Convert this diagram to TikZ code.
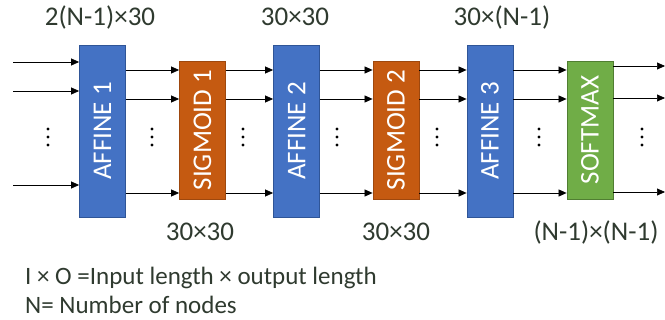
\documentclass[tikz,border=0pt]{standalone}
\usepackage{fontspec}
\setmainfont{Carlito}
\usetikzlibrary{arrows.meta}
\definecolor{ablue}{HTML}{4472C4}
\definecolor{ablueb}{HTML}{2F5597}
\definecolor{aorange}{HTML}{C55A11}
\definecolor{aorangeb}{HTML}{9E480E}
\definecolor{agreen}{HTML}{70AD47}
\definecolor{agreenb}{HTML}{507E32}
\definecolor{txt}{HTML}{2F3A2F}
\tikzset{
  layer/.style={draw=#1b, fill=#1, line width=0.8pt, minimum width=46pt, text=white, font=\fontsize{27}{30}\selectfont},
  tall/.style={minimum height=172pt},
  short/.style={minimum height=138pt},
  conn/.style={-{Triangle[length=8pt,width=7pt]}, line width=0.7pt, black},
  lbl/.style={anchor=base, text=txt, font=\fontsize{27}{30}\selectfont, inner sep=0pt},
  leg/.style={anchor=base west, text=txt, font=\fontsize{25}{28}\selectfont, inner sep=0pt},
  dot/.style={fill=black, draw=none}
}
\begin{document}
\begin{tikzpicture}[x=1pt,y=-1pt]
\useasboundingbox (0,0) rectangle (665,320);
% layers
\node[layer=ablue, tall] (a1) at (102.5,131) {\rotatebox{90}{AFFINE 1}};
\node[layer=aorange, short] (s1) at (202.5,130) {\rotatebox{90}{SIGMOID 1}};
\node[layer=ablue, tall] (a2) at (296.5,131) {\rotatebox{90}{AFFINE 2}};
\node[layer=aorange, short] (s2) at (396,130) {\rotatebox{90}{SIGMOID 2}};
\node[layer=ablue, tall] (a3) at (490,131) {\rotatebox{90}{AFFINE 3}};
\node[layer=agreen, short] (sm) at (590,130) {\rotatebox{90}{SOFTMAX}};
% row coordinates
\coordinate (i1) at (13,62);
\coordinate (i2) at (13,91);
\coordinate (i3) at (13,185);
\coordinate (r1) at (0,70);
\coordinate (r2) at (0,99);
\coordinate (r3) at (0,193);
\coordinate (o1) at (665,66);
\coordinate (o2) at (665,98);
\coordinate (o3) at (665,192);
% input arrows
\foreach \c in {i1,i2,i3} \draw[conn] (\c) -- (a1.west |- \c);
% between layers
\foreach \u/\v in {a1/s1,s1/a2,a2/s2,s2/a3,a3/sm}
  \foreach \r in {r1,r2,r3}
    \draw[conn] (\u.east |- \r) -- (\v.west |- \r);
% outputs
\foreach \c in {o1,o2,o3} \draw[conn] (sm.east |- \c) -- (\c);
% vertical dots
\foreach \x in {48,152,243,337,437,539,642}
  \foreach \y in {129,137,145}
    \fill[dot] (\x,\y) circle (1.7pt);
% labels
\node[lbl] (t1) at (100,26) {2(N-1)×30};
\node[lbl] (t2) at (295,26) {30×30};
\node[lbl] (t3) at (502,26) {30×(N-1)};
\node[lbl] (b1) at (200,241) {30×30};
\node[lbl] (b2) at (396,241) {30×30};
\node[lbl] (b3) at (596,241) {(N-1)×(N-1)};
% legend
\node[leg] (l1) at (25,285) {I × O =Input length × output length};
\node[leg] (l2) at (25,314) {N= Number of nodes};
\end{tikzpicture}
\end{document}
